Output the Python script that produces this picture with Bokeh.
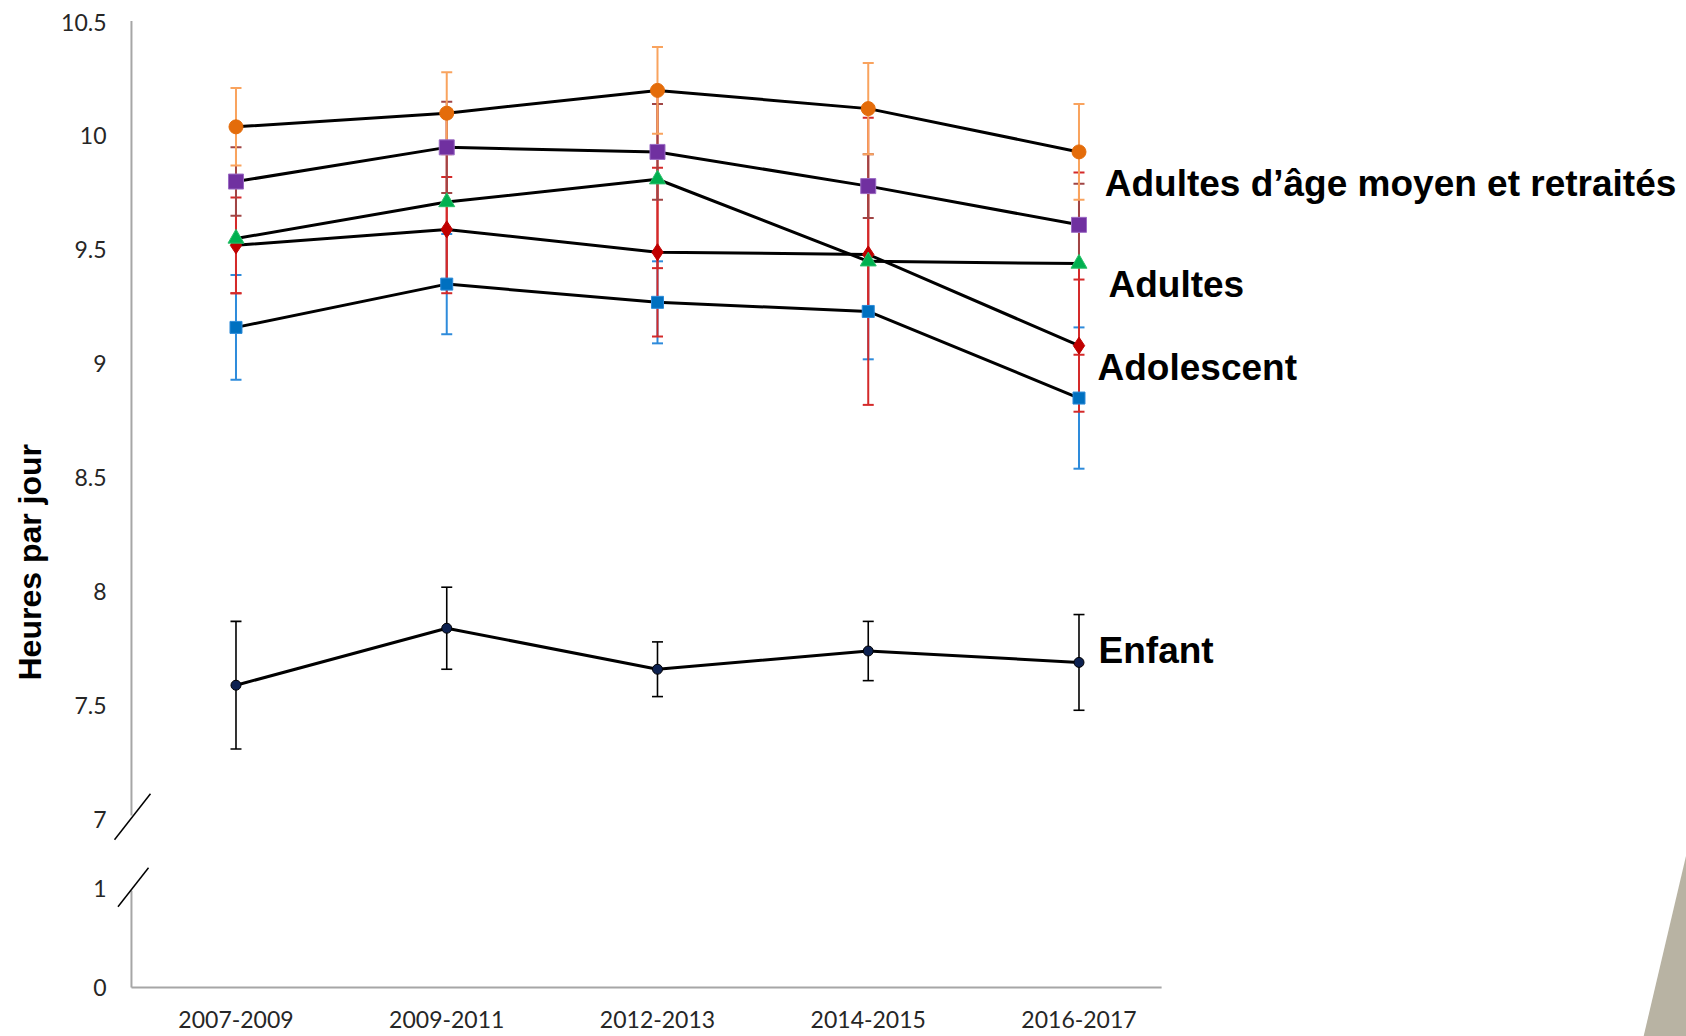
from bokeh.plotting import figure
from bokeh.models import FixedTicker, ColumnDataSource, Whisker, TeeHead, Range1d, Title
from bokeh.embed import file_html
from bokeh.resources import INLINE
from bokeh.core.properties import value

# ---------------- data ----------------
periods = ["2007-2009", "2009-2011", "2012-2013", "2014-2015", "2016-2017"]

orange_vals = [10.04, 10.10, 10.20, 10.12, 9.93]
orange_err = [0.17, 0.18, 0.19, 0.20, 0.21]
purple_vals = [9.80, 9.95, 9.93, 9.78, 9.61]
purple_err = [0.15, 0.20, 0.21, 0.14, 0.18]
green_vals = [9.55, 9.71, 9.81, 9.45, 9.44]
green_err = [0.24, 0.40, 0.39, 0.63, 0.40]
red_vals = [9.52, 9.59, 9.49, 9.48, 9.08]
red_err = [0.21, 0.23, 0.37, 0.27, 0.29]
blue_vals = [9.16, 9.35, 9.27, 9.23, 8.85]
blue_err = [0.23, 0.22, 0.18, 0.21, 0.31]
child_vals = [7.59, 7.84, 7.66, 7.74, 7.69]
child_err = [0.28, 0.18, 0.12, 0.13, 0.21]

y_tick_values = [0, 1, 7, 7.5, 8, 8.5, 9, 9.5, 10, 10.5]
y_tick_labels = ["0", "1", "7", "7.5", "8", "8.5", "9", "9.5", "10", "10.5"]

group_labels = ["Adultes d\u2019\u00e2ge moyen et retrait\u00e9s", "Adultes", "Adolescent", "Enfant"]
y_title = "Heures par jour"

# ---------------- layout helpers ----------------
# broken axis: values 0..1 squeezed below the 7 mark
def to_plot(v):
    if v >= 7:
        return v
    return 6.263 + v * (6.697 - 6.263)

label_x = [4.122, 4.140, 4.088, 4.093]
label_y = [9.791, 9.348, 8.984, 7.742]
xlabel_y = 6.122

xs = list(range(len(periods)))

p = figure(width=1686, height=1036, output_backend="svg", toolbar_location=None,
           x_range=Range1d(-0.6002, 6.8826), y_range=Range1d(6.0485, 10.533),
           x_axis_location=None,
           min_border_left=109, min_border_right=0, min_border_top=14, min_border_bottom=0)
p.grid.visible = False
p.outline_line_color = None
p.background_fill_color = "white"
p.border_fill_color = "white"

# photo fragment in the bottom-right corner
p.patch(x=[6.883, 6.679, 6.883], y=[6.851, 6.049, 6.049], fill_color="#B8B3A3", line_color=None)

# axes lines (drawn manually because of the axis break)
axis_col = "#A6A6A6"
p.segment(x0=[-0.496, -0.496, -0.496], y0=[10.505, 6.688, 6.263],
          x1=[-0.496, -0.496, 4.392], y1=[7.018, 6.263, 6.263],
          line_color=axis_col, line_width=2)
# break marks
p.segment(x0=[-0.5765, -0.560], y0=[6.912, 6.618], x1=[-0.4057, -0.415], y1=[7.114, 6.789],
          line_color="black", line_width=1.5)

font_ticks = "Lato"
tick_size = "23px"
ax = p.yaxis[0]
ax.axis_line_color = None
ax.major_tick_line_color = None
ax.minor_tick_line_color = None
ax.major_tick_out = 0
ax.major_tick_in = 0
ax.major_label_text_font = font_ticks
ax.major_label_text_font_size = tick_size
ax.major_label_text_color = "#262626"
ytick_pos = [to_plot(v) for v in y_tick_values]
ax.ticker = FixedTicker(ticks=ytick_pos)
ax.major_label_overrides = {pos: lab for pos, lab in zip(ytick_pos, y_tick_labels)}
ax.major_label_standoff = 3

# category labels under the (broken) x axis
p.text(x=xs, y=[xlabel_y] * len(xs), text=periods, text_font=value(font_ticks),
       text_font_size=tick_size, text_color="#262626", text_align="center",
       text_baseline="middle")

# ---------------- series ----------------
series = [
    # vals, err, marker, size, fill, edge, errcolor
    (blue_vals, blue_err, "square", 12, "#0070C0", "#2C8AD8", "#2E8BDB"),
    (red_vals, red_err, "diamond", 17, "#C00000", "#C00000", "#D42A2A"),
    (green_vals, green_err, "triangle", 16, "#00B050", "#2BC06A", "#D42A2A"),
    (purple_vals, purple_err, "square", 15, "#7030A0", "#9B6BC4", "#A04545"),
    (orange_vals, orange_err, "circle", 14, "#E46C0A", "#E46C0A", "#F9A35E"),
    (child_vals, child_err, "circle", 10, "#0D2150", "#000000", "#000000"),
]

for vals, errs, mk, sz, fill, edge, ecol in series:
    src = ColumnDataSource(dict(x=xs,
                                lower=[to_plot(v - e) for v, e in zip(vals, errs)],
                                upper=[to_plot(v + e) for v, e in zip(vals, errs)]))
    lw = 1.6 if ecol == "#000000" else 2
    w = Whisker(base="x", lower="lower", upper="upper", source=src, dimension="height",
                line_color=ecol, line_width=lw,
                upper_head=TeeHead(size=11, line_color=ecol, line_width=lw),
                lower_head=TeeHead(size=11, line_color=ecol, line_width=lw))
    p.add_layout(w)

for vals, errs, mk, sz, fill, edge, ecol in series:
    p.line(xs, [to_plot(v) for v in vals], line_color="black", line_width=3)

for vals, errs, mk, sz, fill, edge, ecol in series:
    p.scatter(xs, [to_plot(v) for v in vals], marker=mk, size=sz,
              fill_color=fill, line_color=edge, line_width=1)

# group labels
p.text(x=label_x, y=label_y, text=group_labels, text_font=value("Liberation Sans"),
       text_font_size="37px", text_font_style="bold", text_color="black",
       text_align="left", text_baseline="middle")

# y axis title (placed as a side title so it sits outside the frame)
p.add_layout(Title(text=y_title, align="left", offset=356, vertical_align="middle",
                   text_font="Liberation Sans", text_font_size="32px", text_font_style="bold",
                   text_color="black", standoff=20), "left")

open("out.html", "w").write(file_html(p, INLINE))
